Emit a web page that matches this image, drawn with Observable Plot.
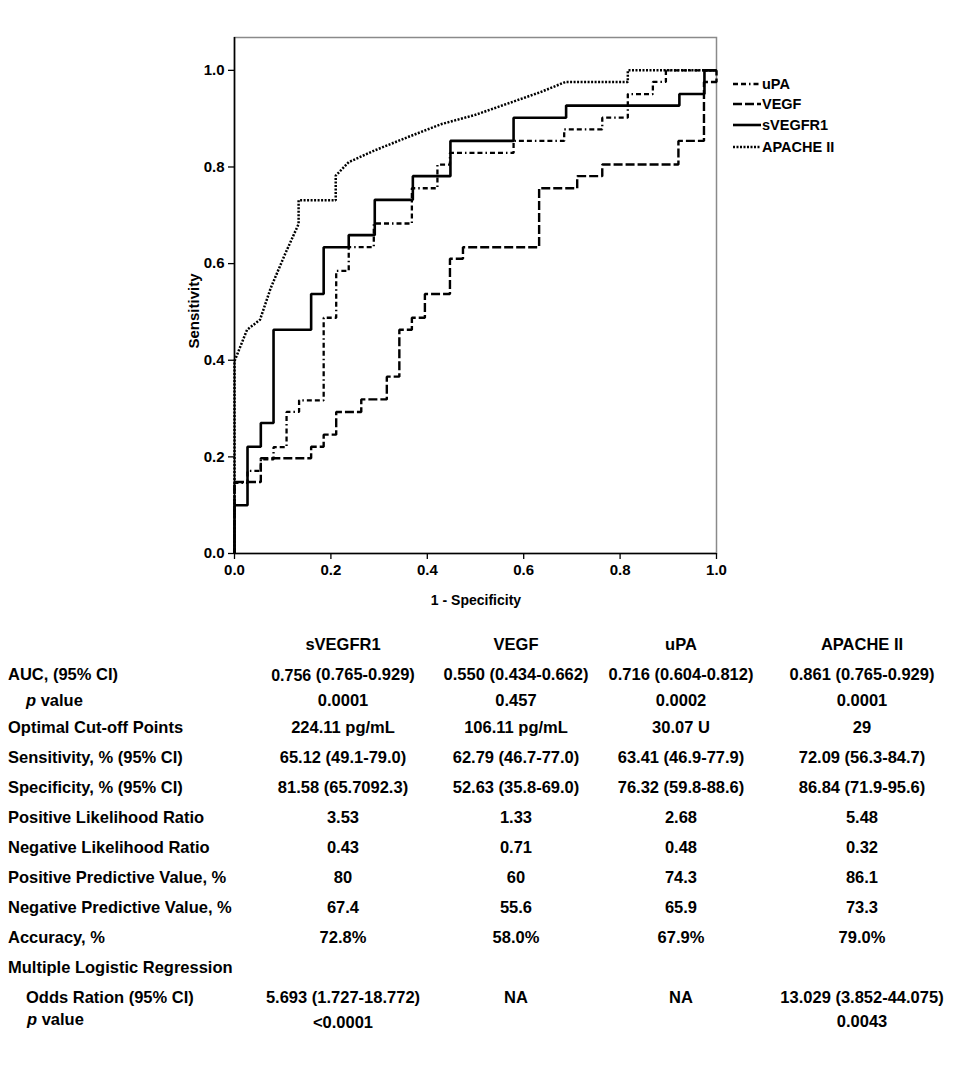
<!DOCTYPE html>
<html>
<head>
<meta charset="utf-8">
<script src="https://cdn.jsdelivr.net/npm/d3@7"></script>
<script src="https://cdn.jsdelivr.net/npm/@observablehq/plot@0.6"></script>
<style>
  body { margin: 0; background: #fff; font-family: "Liberation Sans", Arial, sans-serif; color: #000; }
  #wrap { position: relative; width: 959px; height: 1080px; overflow: hidden; }
  #chart { position: absolute; left: 0; top: 0; }
  .abs { position: absolute; white-space: nowrap; font-weight: bold; }
  .lbl { font-size: 16.5px; height: 20px; line-height: 20px; }
  .val { font-size: 16.5px; height: 20px; line-height: 20px; transform: translateX(-50%); }
  .ttl { font-size: 14px; }
  .leg { font-size: 14.5px; height: 18px; line-height: 18px; display: flex; align-items: center; }
</style>
</head>
<body>
<div id="wrap"><div id="chart"></div></div>
<script>
// ---------- ROC data (1 - specificity, sensitivity) ----------
const seriesNames = ["uPA", "VEGF", "sVEGFR1", "APACHE II"];

const uPA_fpr = [0, 0, 0.027, 0.027, 0.0546, 0.0546, 0.081, 0.081, 0.108, 0.108, 0.134, 0.134, 0.185, 0.185, 0.211, 0.211, 0.237, 0.237, 0.289, 0.289, 0.368, 0.368, 0.421, 0.421, 0.447, 0.447, 0.579, 0.579, 0.684, 0.684, 0.763, 0.763, 0.816, 0.816, 0.868, 0.868, 0.895, 0.895, 1];
const uPA_tpr = [0, 0.146, 0.146, 0.171, 0.171, 0.195, 0.195, 0.22, 0.22, 0.293, 0.293, 0.317, 0.317, 0.488, 0.488, 0.585, 0.585, 0.634, 0.634, 0.683, 0.683, 0.756, 0.756, 0.805, 0.805, 0.829, 0.829, 0.854, 0.854, 0.878, 0.878, 0.902, 0.902, 0.951, 0.951, 0.976, 0.976, 1, 1];

const VEGF_fpr = [0, 0, 0.0546, 0.0546, 0.159, 0.159, 0.185, 0.185, 0.211, 0.211, 0.263, 0.263, 0.316, 0.316, 0.342, 0.342, 0.368, 0.368, 0.395, 0.395, 0.447, 0.447, 0.474, 0.474, 0.632, 0.632, 0.711, 0.711, 0.763, 0.763, 0.921, 0.921, 0.974, 0.974, 1, 1];
const VEGF_tpr = [0, 0.148, 0.148, 0.197, 0.197, 0.221, 0.221, 0.246, 0.246, 0.293, 0.293, 0.319, 0.319, 0.366, 0.366, 0.463, 0.463, 0.488, 0.488, 0.537, 0.537, 0.61, 0.61, 0.634, 0.634, 0.756, 0.756, 0.781, 0.781, 0.805, 0.805, 0.854, 0.854, 0.976, 0.976, 1];

const sVEGFR1_fpr = [0, 0, 0.027, 0.027, 0.0546, 0.0546, 0.081, 0.081, 0.159, 0.159, 0.185, 0.185, 0.237, 0.237, 0.291, 0.291, 0.37, 0.37, 0.448, 0.448, 0.579, 0.579, 0.688, 0.688, 0.923, 0.923, 0.975, 0.975, 1];
const sVEGFR1_tpr = [0, 0.1, 0.1, 0.221, 0.221, 0.27, 0.27, 0.463, 0.463, 0.537, 0.537, 0.634, 0.634, 0.659, 0.659, 0.732, 0.732, 0.781, 0.781, 0.854, 0.854, 0.902, 0.902, 0.927, 0.927, 0.951, 0.951, 1, 1];

const APACHE_fpr = [0, 0, 0.026, 0.053, 0.075, 0.105, 0.133, 0.133, 0.21, 0.21, 0.237, 0.29, 0.36, 0.43, 0.5, 0.566, 0.635, 0.687, 0.816, 0.816, 1];
const APACHE_tpr = [0, 0.398, 0.463, 0.484, 0.549, 0.62, 0.682, 0.731, 0.731, 0.782, 0.81, 0.834, 0.862, 0.889, 0.908, 0.931, 0.955, 0.976, 0.976, 1, 1];

const xTicks = [0, 0.2, 0.4, 0.6, 0.8, 1.0];
const yTicks = [0, 0.2, 0.4, 0.6, 0.8, 1.0];

// ---------- table ----------
const rowLabels = ["AUC, (95% CI)", "p value", "Optimal Cut-off Points", "Sensitivity, % (95% CI)", "Specificity, % (95% CI)", "Positive Likelihood Ratio", "Negative Likelihood Ratio", "Positive Predictive Value, %", "Negative Predictive Value, %", "Accuracy, %", "Multiple Logistic Regression", "Odds Ration (95% CI)", "p value"];
const columnHeads = ["sVEGFR1", "VEGF", "uPA", "APACHE II"];
const col_sVEGFR1 = ["0.756 (0.765-0.929)", "0.0001", "224.11 pg/mL", "65.12 (49.1-79.0)", "81.58 (65.7092.3)", "3.53", "0.43", "80", "67.4", "72.8%", "", "5.693 (1.727-18.772)", "<0.0001"];
const col_VEGF = ["0.550 (0.434-0.662)", "0.457", "106.11 pg/mL", "62.79 (46.7-77.0)", "52.63 (35.8-69.0)", "1.33", "0.71", "60", "55.6", "58.0%", "", "NA", ""];
const col_uPA = ["0.716 (0.604-0.812)", "0.0002", "30.07 U", "63.41 (46.9-77.9)", "76.32 (59.8-88.6)", "2.68", "0.48", "74.3", "65.9", "67.9%", "", "NA", ""];
const col_APACHE = ["0.861 (0.765-0.929)", "0.0001", "29", "72.09 (56.3-84.7)", "86.84 (71.9-95.6)", "5.48", "0.32", "86.1", "73.3", "79.0%", "", "13.029 (3.852-44.075)", "0.0043"];

// ---------- styles / layout (kept apart from data) ----------
const lineStyle = {
  "uPA":       {dash: "5,3,5,3,1.5,3", width: 2.3},
  "VEGF":      {dash: "9,3", width: 2.4},
  "sVEGFR1":   {dash: null, width: 2.6},
  "APACHE II": {dash: "2,1.5", width: 2.5}
};
const seriesData = {
  "uPA": d3.zip(uPA_fpr, uPA_tpr),
  "VEGF": d3.zip(VEGF_fpr, VEGF_tpr),
  "sVEGFR1": d3.zip(sVEGFR1_fpr, sVEGFR1_tpr),
  "APACHE II": d3.zip(APACHE_fpr, APACHE_tpr)
};
const drawOrder = ["APACHE II", "VEGF", "uPA", "sVEGFR1"];

const chart = Plot.plot({
  width: 959,
  height: 615,
  marginLeft: 234,
  marginRight: 243,
  marginTop: 37,
  marginBottom: 62,
  style: {fontFamily: "'Liberation Sans', Arial, sans-serif", fontSize: "15px", fontWeight: "bold", background: "transparent", color: "#000"},
  x: {domain: [0, 1]},
  y: {domain: [0, 1.068]},
  marks: [
    Plot.frame({stroke: "#8a8a8a", strokeWidth: 1.5}),
    Plot.axisY({ticks: yTicks, tickFormat: d3.format(".1f"), tickSize: 6, tickPadding: 4, label: null, stroke: "#000", strokeWidth: 1.3, fontSize: 15, fontWeight: "bold"}),
    Plot.axisX({ticks: xTicks, tickFormat: d3.format(".1f"), tickSize: 6, tickPadding: 5, label: null, stroke: "#000", strokeWidth: 1.3, fontSize: 15, fontWeight: "bold"}),
    Plot.ruleX([0], {stroke: "#000", strokeWidth: 1.6}),
    Plot.ruleY([0], {stroke: "#000", strokeWidth: 1.6}),
    ...drawOrder.map(name => Plot.line(seriesData[name], {
      x: d => d[0], y: d => d[1],
      stroke: "#000",
      strokeWidth: lineStyle[name].width,
      strokeDasharray: lineStyle[name].dash,
      strokeLinecap: "butt",
      strokeLinejoin: "miter"
    }))
  ]
});
document.getElementById("chart").appendChild(chart);

const wrap = document.getElementById("wrap");
function addDiv(cls, html, left, top, extra) {
  const d = document.createElement("div");
  d.className = "abs " + cls;
  d.innerHTML = html;
  d.style.left = left + "px";
  d.style.top = top + "px";
  if (extra) Object.assign(d.style, extra);
  wrap.appendChild(d);
  return d;
}

// axis titles
addDiv("ttl", "1 - Specificity", 476, 592, {transform: "translateX(-50%)"});
addDiv("ttl", "Sensitivity", 193, 311, {transform: "translate(-50%,-50%) rotate(-90deg)", fontSize: "15px"});

// legend
const legendTop = [75, 95, 116, 138];
seriesNames.forEach((name, i) => {
  const st = lineStyle[name];
  const svg = `<svg width="28" height="6" style="margin-right:1px"><line x1="0" y1="3" x2="28" y2="3" stroke="#000" stroke-width="${st.width}" ${st.dash ? `stroke-dasharray="${st.dash}"` : ""}/></svg>`;
  addDiv("leg", svg + name, 733, legendTop[i]);
});

// table
const colX = [343, 516, 681, 862];
const rowY = [674, 700, 727, 757, 787, 817, 847, 877, 907, 937, 967, 997, 1020];
const indentRows = {1: 26, 11: 26, 12: 27};
columnHeads.forEach((h, j) => addDiv("val", h, colX[j], 644 - 10));
rowLabels.forEach((lab, i) => {
  const html = lab.startsWith("p value") ? "<i>p</i>" + lab.slice(1) : lab;
  const x = indentRows[i] !== undefined ? indentRows[i] : 8;
  const y = i === 12 ? 1019 : rowY[i];
  addDiv("lbl", html, x, y - 10);
});
const cols = [col_sVEGFR1, col_VEGF, col_uPA, col_APACHE];
cols.forEach((col, j) => {
  col.forEach((v, i) => {
    if (!v) return;
    let html = v;
    if (i === 0 && j === 0) {
      const sp = v.indexOf(" ");
      html = `<span style="font-size:16px;position:relative;top:1px">${v.slice(0, sp)}</span>${v.slice(sp)}`;
    }
    const y = (i === 12) ? (j === 0 ? 1022 : 1021) : rowY[i];
    addDiv("val", html, colX[j], y - 10);
  });
});
</script>
</body>
</html>
